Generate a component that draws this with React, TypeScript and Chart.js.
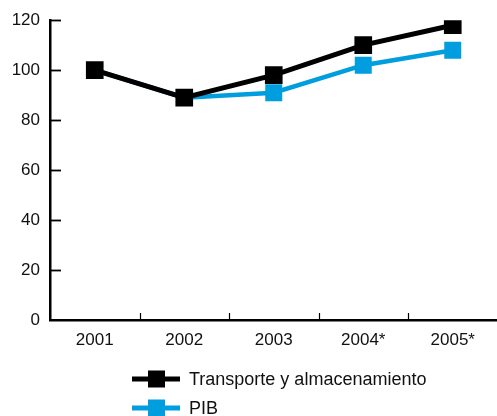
import React, { useEffect, useRef } from "react";
import { Chart, registerables } from "chart.js";

Chart.register(...registerables);

const categories = ["2001", "2002", "2003", "2004*", "2005*"];
const transporte = [100, 89, 98, 110, 118];
const pib = [100, 89, 91, 102, 108];
const seriesLabels = ["Transporte y almacenamiento", "PIB"];
const seriesColors = ["#000000", "#009ddf"];
const yTicks = [0, 20, 40, 60, 80, 100, 120];

const FONT = "'Liberation Sans', Arial, sans-serif";

const innerTicksAndLegend = {
  id: "innerTicksAndLegend",
  afterDraw(chart: any) {
    const { ctx, chartArea, scales } = chart;
    const x = scales.x;
    const y = scales.y;
    ctx.save();
    ctx.strokeStyle = "#000";
    ctx.lineWidth = 1.8;
    for (const v of yTicks) {
      if (v === 0) continue;
      const py = Math.round(y.getPixelForValue(v)) + 0.5;
      ctx.beginPath();
      ctx.moveTo(chartArea.left, py);
      ctx.lineTo(chartArea.left + 11, py);
      ctx.stroke();
    }
    ctx.lineWidth = 1.2;
    for (let i = 1; i < categories.length; i++) {
      const px = Math.round((x.getPixelForValue(i - 1) + x.getPixelForValue(i)) / 2) + 0.5;
      ctx.beginPath();
      ctx.moveTo(px, chartArea.bottom);
      ctx.lineTo(px, chartArea.bottom - 7);
      ctx.stroke();
    }
    const ds = chart.data.datasets;
    ctx.font = "18px " + FONT;
    ctx.textBaseline = "middle";
    ctx.textAlign = "left";
    for (let i = 0; i < ds.length; i++) {
      const cy = chartArea.bottom + 59 + i * 29;
      ctx.strokeStyle = ds[i].borderColor;
      ctx.lineWidth = 5;
      ctx.beginPath();
      ctx.moveTo(132, cy);
      ctx.lineTo(180, cy);
      ctx.stroke();
      ctx.fillStyle = ds[i].backgroundColor;
      ctx.fillRect(148, cy - 8.5, 17, 17);
      ctx.fillStyle = "#111";
      ctx.fillText(ds[i].label, 189, cy + 1);
    }
    ctx.restore();
  },
};

export default function App() {
  const ref = useRef<HTMLCanvasElement | null>(null);
  useEffect(() => {
    if (!ref.current) return;
    const chart = new Chart(ref.current, {
      type: "line",
      data: {
        labels: categories,
        datasets: [
          {
            label: seriesLabels[0],
            data: transporte,
            borderColor: seriesColors[0],
            backgroundColor: seriesColors[0],
            borderWidth: 5,
            pointStyle: "rect",
            pointRadius: 12.5,
            pointBorderWidth: 0,
            pointHoverRadius: 12.5,
          },
          {
            label: seriesLabels[1],
            data: pib,
            borderColor: seriesColors[1],
            backgroundColor: seriesColors[1],
            borderWidth: 4.5,
            pointStyle: "rect",
            pointRadius: [0, 0, 12, 12, 12],
            pointBorderWidth: 0,
            pointHoverRadius: 12,
          },
        ],
      },
      options: {
        animation: false,
        responsive: false,
        layout: { padding: { top: 14, left: 0, right: 10, bottom: 0 } },
        plugins: { legend: { display: false }, tooltip: { enabled: false } },
        scales: {
          x: {
            type: "category",
            offset: true,
            grid: { display: false, drawTicks: false },
            border: { display: true, color: "#000", width: 2.5 },
            ticks: { color: "#111", font: { family: FONT, size: 17 }, padding: 10, maxRotation: 0 },
            afterFit: (s: any) => {
              s.height = 96;
            },
          },
          y: {
            min: 0,
            max: 120,
            ticks: { stepSize: 20, color: "#111", font: { family: FONT, size: 17 }, padding: 10 },
            grid: { display: false, drawTicks: false },
            border: { display: true, color: "#000", width: 2.5 },
            afterFit: (s: any) => {
              s.width = 50;
            },
          },
        },
      },
      plugins: [innerTicksAndLegend],
    });
    return () => chart.destroy();
  }, []);
  return (
    <div style={{ position: "fixed", left: 0, top: 0, width: 497, height: 416, overflow: "hidden", background: "#fff" }}>
      <canvas ref={ref} width={510} height={416} style={{ display: "block", width: 510, height: 416 }} />
    </div>
  );
}
